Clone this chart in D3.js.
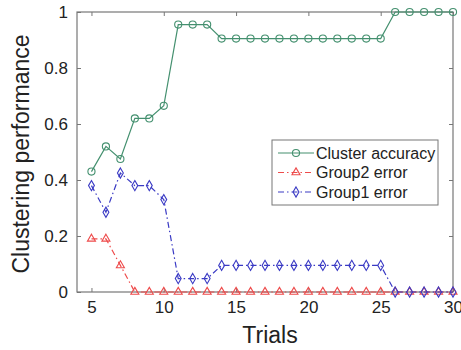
<!DOCTYPE html>
<html>
<head>
<meta charset="utf-8">
<script src="https://cdn.jsdelivr.net/npm/d3@7"></script>
<style>
  body { margin: 0; background: #fff; }
  text { font-family: "Liberation Sans", Arial, sans-serif; fill: #222; }
</style>
</head>
<body>
<div id="chart"></div>
<script>
const trials = d3.range(5, 31);
const clusterAccuracy = [0.43, 0.52, 0.475, 0.62, 0.62, 0.665, 0.955, 0.955, 0.955,
  0.905, 0.905, 0.905, 0.905, 0.905, 0.905, 0.905, 0.905, 0.905, 0.905, 0.905, 0.905,
  1, 1, 1, 1, 1];
const group2Error = [0.19, 0.19, 0.095, 0, 0, 0, 0, 0, 0, 0, 0, 0, 0, 0, 0, 0, 0, 0, 0,
  0, 0, 0, 0, 0, 0, 0];
const group1Error = [0.38, 0.285, 0.425, 0.38, 0.38, 0.33, 0.048, 0.048, 0.048,
  0.095, 0.095, 0.095, 0.095, 0.095, 0.095, 0.095, 0.095, 0.095, 0.095, 0.095, 0.095,
  0, 0, 0, 0, 0];
const xTicks = [5, 10, 15, 20, 25, 30];
const yTicks = [0, 0.2, 0.4, 0.6, 0.8, 1];

const series = [
  { name: "Cluster accuracy", values: clusterAccuracy, color: "#44906f", dash: null, marker: "circle" },
  { name: "Group2 error", values: group2Error, color: "#ee4b4b", dash: "6,3,1.5,3", marker: "triangle" },
  { name: "Group1 error", values: group1Error, color: "#3a3ac4", dash: "6,3,1.5,3", marker: "diamond" }
];

const width = 461, height = 350;
const margin = { top: 12, right: 8, bottom: 58, left: 77 };
const plotW = width - margin.left - margin.right;
const plotH = height - margin.top - margin.bottom;

const svg = d3.select("#chart").append("svg")
  .attr("width", width).attr("height", height);

const x = d3.scaleLinear().domain([4, 30]).range([0, plotW]);
const y = d3.scaleLinear().domain([0, 1]).range([plotH, 0]);

const g = svg.append("g").attr("transform", `translate(${margin.left},${margin.top})`);

// axes box
const axisColor = "#777";
function styleAxis(sel) {
  sel.select(".domain").remove();
  sel.selectAll(".tick line").attr("stroke", axisColor);
  sel.selectAll(".tick text").style("font-size", "17px").attr("fill", "#222");
}
g.append("g").attr("transform", `translate(0,${plotH})`)
  .call(d3.axisBottom(x).tickValues(xTicks).tickSize(-4).tickPadding(9).tickFormat(d3.format("d")))
  .call(styleAxis);
g.append("g")
  .call(d3.axisTop(x).tickValues(xTicks).tickSize(-4).tickFormat(""))
  .call(styleAxis);
g.append("g")
  .call(d3.axisLeft(y).tickValues(yTicks).tickSize(-4).tickPadding(9).tickFormat(d => d === 0 || d === 1 ? d3.format("d")(d) : d3.format(".1f")(d)))
  .call(styleAxis);
g.append("g").attr("transform", `translate(${plotW},0)`)
  .call(d3.axisRight(y).tickValues(yTicks).tickSize(-4).tickFormat(""))
  .call(styleAxis);
g.append("rect").attr("width", plotW).attr("height", plotH)
  .attr("fill", "none").attr("stroke", axisColor).attr("stroke-width", 1.2);

// labels
svg.append("text")
  .attr("x", margin.left + plotW / 2 + 5).attr("y", 343)
  .attr("text-anchor", "middle").style("font-size", "23px").text("Trials");
svg.append("text")
  .attr("transform", `translate(29,${margin.top + plotH / 2 + 2}) rotate(-90)`)
  .attr("text-anchor", "middle").style("font-size", "23px").text("Clustering performance");

const symbolFor = {
  circle: d3.symbol().type(d3.symbolCircle).size(40),
  triangle: d3.symbol().type(d3.symbolTriangle).size(28),
  diamond: d3.symbol().type(d3.symbolDiamond).size(30)
};

const line = d3.line().x(d => x(d[0])).y(d => y(d[1]));

series.forEach(s => {
  const pts = trials.map((t, i) => [t, s.values[i]]);
  g.append("path").datum(pts)
    .attr("fill", "none").attr("stroke", s.color).attr("stroke-width", 1.2)
    .attr("stroke-dasharray", s.dash).attr("d", line);
  g.selectAll(null).data(pts).enter().append("path")
    .attr("transform", d => `translate(${x(d[0])},${y(d[1])})`)
    .attr("d", symbolFor[s.marker]())
    .attr("fill", "none").attr("stroke", s.color).attr("stroke-width", 1.1);
});

// legend
const legend = svg.append("g").attr("transform", "translate(272,140)");
legend.append("rect").attr("width", 166).attr("height", 65)
  .attr("fill", "#fff").attr("stroke", axisColor).attr("stroke-width", 1);
series.forEach((s, i) => {
  const ly = 13 + i * 19.5;
  legend.append("line").attr("x1", 6).attr("x2", 42).attr("y1", ly).attr("y2", ly)
    .attr("stroke", s.color).attr("stroke-width", 1.2).attr("stroke-dasharray", s.dash);
  legend.append("path").attr("transform", `translate(24,${ly})`)
    .attr("d", symbolFor[s.marker]())
    .attr("fill", "none").attr("stroke", s.color).attr("stroke-width", 1.1);
  legend.append("text").attr("x", 44).attr("y", ly + 5.5)
    .style("font-size", "16px").text(s.name);
});
</script>
</body>
</html>
